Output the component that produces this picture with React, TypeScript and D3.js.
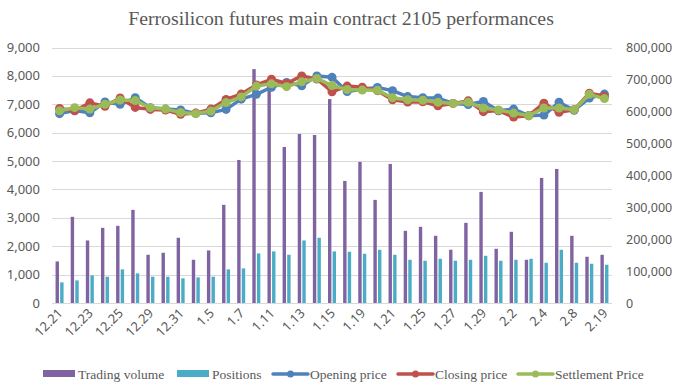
import React, { useEffect, useRef } from "react";
import * as d3 from "d3";

const dates = ["12.21", "12.22", "12.23", "12.24", "12.25", "12.28", "12.29", "12.30", "12.31", "1.4", "1.5", "1.6", "1.7", "1.8", "1.11", "1.12", "1.13", "1.14", "1.15", "1.18", "1.19", "1.20", "1.21", "1.22", "1.25", "1.26", "1.27", "1.28", "1.29", "2.1", "2.2", "2.3", "2.4", "2.5", "2.8", "2.18", "2.19"];

const tradingVolume = [130200, 269800, 195800, 235400, 241700, 291700, 151000, 157300, 204200, 135400, 164600, 307300, 447900, 732300, 672000, 488600, 529200, 526000, 638500, 382300, 441700, 322900, 435400, 226000, 238500, 210400, 166700, 251000, 347900, 169800, 222900, 135400, 391700, 419800, 210400, 144800, 151000];

const positions = [64600, 70800, 86400, 82300, 105200, 92700, 82300, 82300, 77100, 80200, 82300, 105200, 108300, 155200, 161500, 151000, 195800, 204200, 161500, 160400, 154200, 166700, 151000, 135400, 132300, 138500, 132300, 135400, 147900, 132300, 135400, 138500, 126000, 166700, 126000, 122900, 119800];

const openingPrice = [6670, 6780, 6700, 7080, 7000, 7230, 6880, 6830, 6800, 6680, 6700, 6820, 7180, 7350, 7600, 7770, 7650, 8000, 7950, 7450, 7530, 7590, 7480, 7270, 7230, 7220, 7030, 6990, 7100, 6770, 6830, 6600, 6620, 7070, 6790, 7220, 7360];

const closingPrice = [6850, 6770, 7050, 6930, 7220, 6890, 6820, 6800, 6650, 6690, 6830, 7170, 7360, 7680, 7880, 7730, 8000, 7890, 7440, 7640, 7600, 7480, 7160, 7080, 7090, 6950, 7030, 7120, 6740, 6780, 6550, 6600, 7040, 6720, 6810, 7390, 7280];

const settlementPrice = [6770, 6880, 6830, 7000, 7150, 7130, 6880, 6830, 6710, 6670, 6760, 7060, 7260, 7640, 7720, 7620, 7790, 7910, 7660, 7520, 7500, 7490, 7230, 7160, 7140, 7070, 7030, 7070, 6870, 6800, 6690, 6600, 6870, 6870, 6810, 7350, 7200];

const leftTicks = [0, 1000, 2000, 3000, 4000, 5000, 6000, 7000, 8000, 9000];
const rightTicks = [0, 100000, 200000, 300000, 400000, 500000, 600000, 700000, 800000];

const App = () => {
    const svgRef = useRef<SVGSVGElement>(null);

    useEffect(() => {
        document.body.style.margin = "0";
        const width = 680, height = 386;
        const left = 52, right = 612, top = 47.5, bottom = 303;
        const tickFont = "'Noto Sans', sans-serif";
        const serif = "'Liberation Serif', 'Times New Roman', serif";
        const grey = "#595959";

        const svg = d3.select(svgRef.current)
            .attr("width", width)
            .attr("height", height);

        svg.selectAll("*").remove();

        svg.append("rect").attr("width", width).attr("height", height).attr("fill", "#fff");

        const x = d3.scaleBand().domain(dates).range([left, right]).padding(0);
        const yLeft = d3.scaleLinear().domain([0, 9000]).range([bottom, top]);
        const yRight = d3.scaleLinear().domain([0, 800000]).range([bottom, top]);
        const cx = (d: string) => (x(d) as number) + x.bandwidth() / 2;

        // title
        svg.append("text")
            .attr("x", 341)
            .attr("y", 25)
            .attr("text-anchor", "middle")
            .attr("font-family", serif)
            .attr("font-size", 19.8)
            .attr("fill", grey)
            .text("Ferrosilicon futures main contract 2105 performances");

        // grid
        svg.append("g").selectAll("line")
            .data(leftTicks)
            .enter()
            .append("line")
            .attr("x1", left)
            .attr("x2", right)
            .attr("y1", d => Math.round(yLeft(d)) + 0.5)
            .attr("y2", d => Math.round(yLeft(d)) + 0.5)
            .attr("stroke", "#d9d9d9")
            .attr("stroke-width", 1);

        // left axis labels
        svg.append("g").selectAll("text")
            .data(leftTicks)
            .enter()
            .append("text")
            .attr("x", 40)
            .attr("y", d => yLeft(d) + 4.5)
            .attr("text-anchor", "end")
            .attr("font-family", tickFont)
            .attr("font-size", 13)
            .attr("fill", grey)
            .text(d => d3.format(",")(d));

        // right axis labels
        svg.append("g").selectAll("text")
            .data(rightTicks)
            .enter()
            .append("text")
            .attr("x", 626)
            .attr("y", d => yRight(d) + 4.5)
            .attr("text-anchor", "start")
            .attr("font-family", tickFont)
            .attr("font-size", 12.5)
            .attr("fill", grey)
            .text(d => d3.format(",")(d));

        // x labels, every other category
        svg.append("g").selectAll("text")
            .data(dates.filter((d, i) => i % 2 === 0))
            .enter()
            .append("text")
            .attr("transform", d => `translate(${cx(d) + 4}, 314) rotate(-45)`)
            .attr("text-anchor", "end")
            .attr("font-family", tickFont)
            .attr("font-size", 13)
            .attr("fill", grey)
            .text(d => d);

        // bars
        const barW = 3.4;
        svg.append("g").selectAll("rect")
            .data(dates)
            .enter()
            .append("rect")
            .attr("x", d => cx(d) - barW - 0.6)
            .attr("y", (d, i) => yRight(tradingVolume[i]))
            .attr("width", barW)
            .attr("height", (d, i) => bottom - yRight(tradingVolume[i]))
            .attr("fill", "#8064A2");

        svg.append("g").selectAll("rect")
            .data(dates)
            .enter()
            .append("rect")
            .attr("x", d => cx(d) + 0.6)
            .attr("y", (d, i) => yRight(positions[i]))
            .attr("width", barW)
            .attr("height", (d, i) => bottom - yRight(positions[i]))
            .attr("fill", "#4BACC6");

        // price lines
        const series = [
            { values: openingPrice, color: "#4F81BD" },
            { values: closingPrice, color: "#C0504D" },
            { values: settlementPrice, color: "#9BBB59" },
        ];
        const line = d3.line<number>()
            .x((d, i) => cx(dates[i]))
            .y(d => yLeft(d));

        series.forEach(s => {
            const g = svg.append("g");
            g.append("path")
                .attr("d", line(s.values))
                .attr("fill", "none")
                .attr("stroke", s.color)
                .attr("stroke-width", 3.5)
                .attr("stroke-linejoin", "round");
            g.selectAll("circle")
                .data(s.values)
                .enter()
                .append("circle")
                .attr("cx", (d, i) => cx(dates[i]))
                .attr("cy", d => yLeft(d))
                .attr("r", 4.5)
                .attr("fill", s.color);
        });

        // legend
        const legendY = 374;
        const legend = [
            { label: "Trading volume", color: "#8064A2", type: "bar", x: 43 },
            { label: "Positions", color: "#4BACC6", type: "bar", x: 177 },
            { label: "Opening price", color: "#4F81BD", type: "line", x: 273 },
            { label: "Closing price", color: "#C0504D", type: "line", x: 398 },
            { label: "Settlement Price", color: "#9BBB59", type: "line", x: 518 },
        ];
        const lg = svg.append("g");
        legend.forEach(item => {
            if (item.type === "bar") {
                lg.append("rect")
                    .attr("x", item.x)
                    .attr("y", legendY - 4)
                    .attr("width", 32)
                    .attr("height", 7)
                    .attr("fill", item.color);
            } else {
                lg.append("line")
                    .attr("x1", item.x)
                    .attr("x2", item.x + 35)
                    .attr("y1", legendY)
                    .attr("y2", legendY)
                    .attr("stroke", item.color)
                    .attr("stroke-width", 3.5)
                    .attr("stroke-linecap", "round");
                lg.append("circle")
                    .attr("cx", item.x + 17.5)
                    .attr("cy", legendY)
                    .attr("r", 3.5)
                    .attr("fill", item.color);
            }
            lg.append("text")
                .attr("x", item.x + (item.type === "bar" ? 35 : 37))
                .attr("y", legendY + 4.5)
                .attr("font-family", serif)
                .attr("font-size", 13.5)
                .attr("fill", grey)
                .text(item.label);
        });
    }, []);

    return <svg ref={svgRef}></svg>;
};

export default App;
